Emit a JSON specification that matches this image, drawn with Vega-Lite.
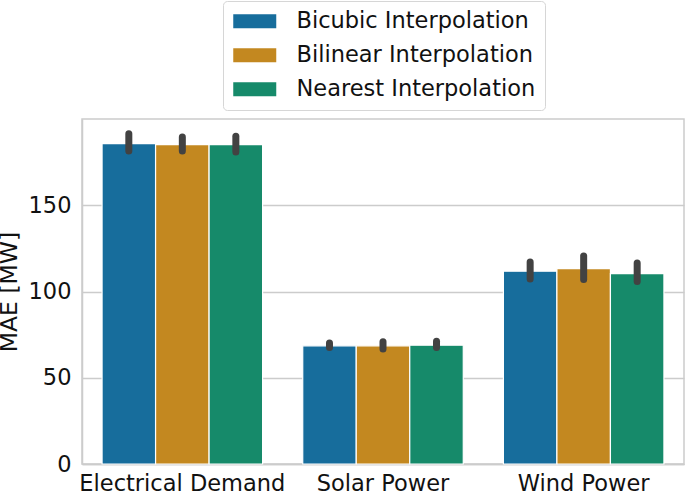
{
  "$schema": "https://vega.github.io/schema/vega-lite/v6.json",
  "width": 602,
  "height": 345,
  "autosize": {"type": "none"},
  "padding": {"left": 82, "top": 119, "right": 1, "bottom": 29},
  "background": "white",
  "config": {
    "font": "DejaVu Sans",
    "view": {"stroke": "#cccccc", "strokeWidth": 1.5}
  },
  "data": {
    "values": [
      {"category": "Electrical Demand", "method": "Bicubic Interpolation", "mae": 185.7, "lo": 181.5, "hi": 191.4},
      {"category": "Electrical Demand", "method": "Bilinear Interpolation", "mae": 185.1, "lo": 181.4, "hi": 189.5},
      {"category": "Electrical Demand", "method": "Nearest Interpolation", "mae": 185.1, "lo": 180.9, "hi": 190.0},
      {"category": "Solar Power", "method": "Bicubic Interpolation", "mae": 68.5, "lo": 67.6, "hi": 70.2},
      {"category": "Solar Power", "method": "Bilinear Interpolation", "mae": 68.5, "lo": 66.7, "hi": 70.8},
      {"category": "Solar Power", "method": "Nearest Interpolation", "mae": 68.9, "lo": 67.6, "hi": 71.1},
      {"category": "Wind Power", "method": "Bicubic Interpolation", "mae": 111.8, "lo": 107.2, "hi": 117.1},
      {"category": "Wind Power", "method": "Bilinear Interpolation", "mae": 113.3, "lo": 107.0, "hi": 120.6},
      {"category": "Wind Power", "method": "Nearest Interpolation", "mae": 110.4, "lo": 105.8, "hi": 116.5}
    ]
  },
  "encoding": {
    "x": {
      "field": "category",
      "type": "nominal",
      "sort": ["Electrical Demand", "Solar Power", "Wind Power"],
      "scale": {"paddingInner": 0.2, "paddingOuter": 0.1},
      "axis": {
        "title": null,
        "labelAngle": 0,
        "labelFontSize": 22.5,
        "labelColor": "#111111",
        "labelPadding": 8,
        "labelLimit": 0,
        "ticks": false,
        "grid": false,
        "domain": true,
        "domainColor": "#cccccc",
        "domainWidth": 1.5
      }
    },
    "xOffset": {
      "field": "method",
      "type": "nominal",
      "sort": ["Bicubic Interpolation", "Bilinear Interpolation", "Nearest Interpolation"],
      "scale": {"paddingInner": 0, "paddingOuter": 0}
    }
  },
  "layer": [
    {
      "mark": {"type": "bar", "stroke": "white", "strokeWidth": 1.2},
      "encoding": {
        "y": {
          "field": "mae",
          "type": "quantitative",
          "title": "MAE [MW]",
          "scale": {"domain": [0, 200], "nice": false},
          "axis": {
            "values": [0, 50, 100, 150],
            "labelFontSize": 22.5,
            "labelColor": "#111111",
            "labelPadding": 11,
            "ticks": false,
            "grid": true,
            "gridColor": "#cccccc",
            "gridWidth": 1.5,
            "domainColor": "#cccccc",
            "domainWidth": 1.5,
            "titleFontSize": 23.5,
            "titleFontWeight": "normal",
            "titleColor": "#111111",
            "titlePadding": 7
          }
        },
        "color": {
          "field": "method",
          "type": "nominal",
          "sort": ["Bicubic Interpolation", "Bilinear Interpolation", "Nearest Interpolation"],
          "scale": {"range": ["#176d9c", "#c38820", "#168a6a"]},
          "legend": {
            "title": null,
            "orient": "none",
            "legendX": 141,
            "legendY": -118,
            "symbolType": "M-1,-0.7L3.3,-0.7L3.3,0.7L-1,0.7Z",
            "symbolSize": 400,
            "symbolStrokeWidth": 0,
            "symbolOpacity": 1,
            "labelFontSize": 22.5,
            "labelColor": "#111111",
            "labelOffset": 42,
            "labelLimit": 0,
            "padding": 9,
            "rowPadding": 11,
            "strokeColor": "#d6d6d6",
            "fillColor": "white",
            "cornerRadius": 4
          }
        }
      }
    },
    {
      "mark": {"type": "rule", "color": "#424242", "strokeWidth": 7, "strokeCap": "round"},
      "encoding": {
        "y": {"field": "lo", "type": "quantitative", "title": "MAE [MW]"},
        "y2": {"field": "hi"}
      }
    }
  ]
}
